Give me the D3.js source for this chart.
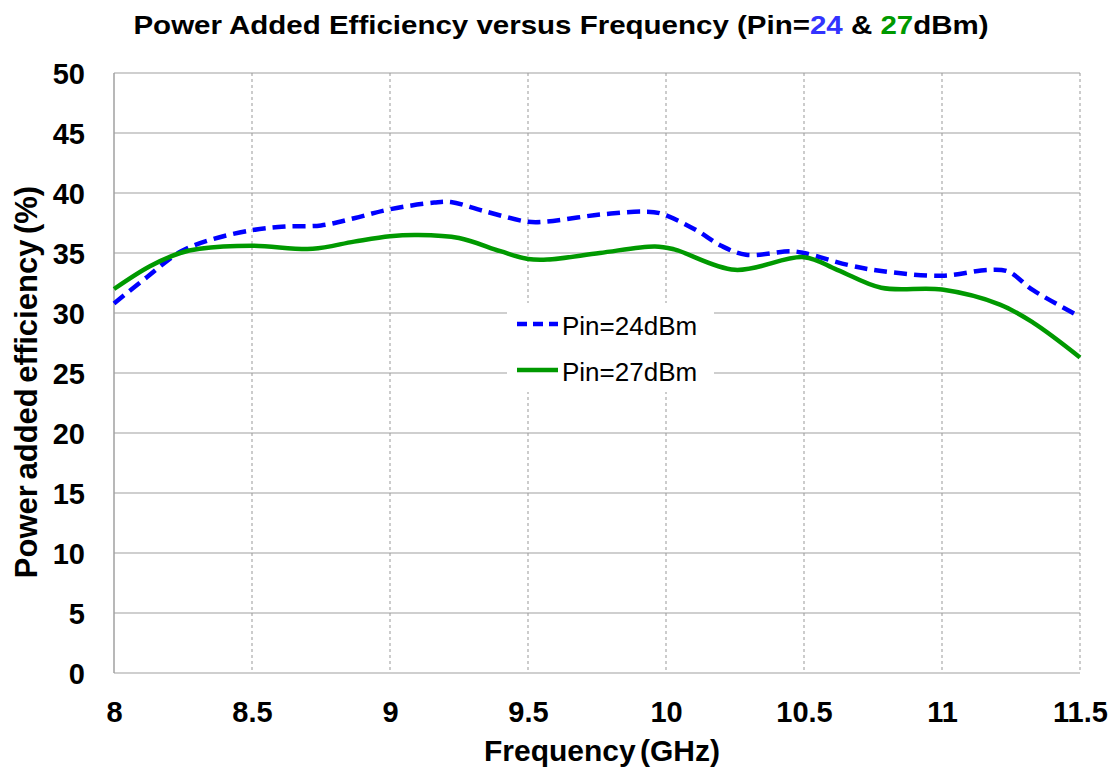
<!DOCTYPE html>
<html>
<head>
<meta charset="utf-8">
<script src="https://cdn.jsdelivr.net/npm/d3@7"></script>
<style>
  body { margin: 0; background: #fff; font-family: Arial, "Liberation Sans", sans-serif; }
</style>
</head>
<body>
<svg></svg>
<script>
const width = 1120;
const height = 769;
const margin = { top: 73, right: 40, bottom: 96, left: 114 };

// frequency in GHz
const freq24 = [8.0, 8.12, 8.24, 8.35, 8.5, 8.62, 8.75, 8.87, 9.0, 9.16, 9.22, 9.34, 9.5, 9.56, 9.76, 9.92, 9.98, 10.11, 10.2, 10.29, 10.45, 10.5, 10.66, 10.78, 11.0, 11.17, 11.24, 11.33, 11.5];
const pae24 = [30.8, 33.0, 35.1, 36.1, 36.9, 37.2, 37.3, 37.9, 38.65, 39.2, 39.25, 38.5, 37.6, 37.6, 38.2, 38.45, 38.3, 36.9, 35.6, 34.85, 35.15, 35.0, 34.0, 33.5, 33.1, 33.6, 33.45, 31.9, 29.7];
const freq27 = [8.0, 8.13, 8.24, 8.31, 8.5, 8.72, 8.87, 9.0, 9.1, 9.25, 9.4, 9.5, 9.57, 9.76, 9.96, 10.03, 10.25, 10.5, 10.62, 10.78, 11.0, 11.21, 11.33, 11.5];
const pae27 = [32.0, 33.9, 35.0, 35.35, 35.6, 35.35, 35.95, 36.4, 36.5, 36.25, 35.15, 34.5, 34.45, 35.0, 35.55, 35.3, 33.6, 34.65, 33.6, 32.1, 31.95, 30.7, 29.2, 26.3];

const xTicks = [8, 8.5, 9, 9.5, 10, 10.5, 11, 11.5];
const yTicks = [0, 5, 10, 15, 20, 25, 30, 35, 40, 45, 50];

const series = [
  { name: 'Pin=24dBm', x: freq24, y: pae24, color: '#0000ff', dash: '13,7' },
  { name: 'Pin=27dBm', x: freq27, y: pae27, color: '#009900', dash: null }
];

const svg = d3.select('svg')
  .attr('width', width)
  .attr('height', height);

const x = d3.scaleLinear().domain([8, 11.5]).range([margin.left, width - margin.right]);
const y = d3.scaleLinear().domain([0, 50]).range([height - margin.bottom, margin.top]);

// horizontal grid (solid)
svg.append('g')
  .selectAll('line')
  .data(yTicks)
  .enter()
  .append('line')
  .attr('x1', x(8))
  .attr('x2', x(11.5))
  .attr('y1', d => y(d))
  .attr('y2', d => y(d))
  .attr('stroke', '#a0a0a0')
  .attr('stroke-width', 1.2);

// vertical grid (dashed)
svg.append('g')
  .selectAll('line')
  .data(xTicks.slice(1))
  .enter()
  .append('line')
  .attr('x1', d => x(d))
  .attr('x2', d => x(d))
  .attr('y1', y(50))
  .attr('y2', y(0))
  .attr('stroke', '#999')
  .attr('stroke-width', 1)
  .attr('stroke-dasharray', '3,3');

// left axis line
svg.append('line')
  .attr('x1', x(8)).attr('x2', x(8))
  .attr('y1', y(50)).attr('y2', y(0))
  .attr('stroke', '#a0a0a0')
  .attr('stroke-width', 1.5);

const yAxis = svg.append('g')
  .attr('transform', `translate(${x(8)},0)`)
  .call(d3.axisLeft(y).tickValues(yTicks).tickSize(0).tickPadding(29));
const xAxis = svg.append('g')
  .attr('transform', `translate(0,${y(0)})`)
  .call(d3.axisBottom(x).tickValues(xTicks).tickSize(0).tickFormat(d3.format('')));
[xAxis, yAxis].forEach(a => {
  a.select('.domain').remove();
  a.selectAll('text')
    .attr('fill', '#000')
    .style('font-family', 'Arial, "Liberation Sans", sans-serif')
    .style('font-size', '29px')
    .style('font-weight', 'bold');
});
yAxis.selectAll('text').attr('dy', '0.36em');
xAxis.selectAll('text').attr('y', 49).attr('dy', 0);

const line = d3.line()
  .x(d => x(d[0]))
  .y(d => y(d[1]))
  .curve(d3.curveCatmullRom.alpha(0.5));

svg.append('g')
  .selectAll('path')
  .data(series)
  .enter()
  .append('path')
  .attr('d', s => line(s.x.map((v, i) => [v, s.y[i]])))
  .attr('fill', 'none')
  .attr('stroke', s => s.color)
  .attr('stroke-width', 4.5)
  .attr('stroke-dasharray', s => s.dash);

// legend
const legend = svg.append('g').attr('transform', 'translate(507,303)');
legend.append('rect')
  .attr('width', 207)
  .attr('height', 89)
  .attr('fill', '#fff');
const item = legend.selectAll('g')
  .data(series)
  .enter()
  .append('g')
  .attr('transform', (d, i) => `translate(0,${21 + i * 46})`);
item.append('line')
  .attr('x1', 10).attr('x2', 51)
  .attr('y1', 0).attr('y2', 0)
  .attr('stroke', d => d.color)
  .attr('stroke-width', 4.5)
  .attr('stroke-dasharray', d => d.dash ? '10,6' : null);
item.append('text')
  .attr('x', 55)
  .attr('y', 11)
  .style('font-size', '26px')
  .text(d => d.name);

// title
const title = svg.append('text')
  .attr('transform', 'translate(561,34) scale(1.18,1)')
  .attr('text-anchor', 'middle')
  .style('font-size', '25px')
  .style('font-weight', 'bold');
title.append('tspan').text('Power Added Efficiency versus Frequency (Pin=');
title.append('tspan').attr('fill', '#3333ff').text('24');
title.append('tspan').text(' & ');
title.append('tspan').attr('fill', '#009900').text('27');
title.append('tspan').text('dBm)');

// axis titles
svg.append('text')
  .attr('x', 602)
  .attr('y', 761)
  .attr('text-anchor', 'middle')
  .style('font-size', '30px')
  .style('font-weight', 'bold')
  .style('word-spacing', '-4px')
  .text('Frequency (GHz)');

svg.append('text')
  .attr('transform', 'translate(37,382) rotate(-90)')
  .attr('text-anchor', 'middle')
  .style('font-size', '31px')
  .style('font-weight', 'bold')
  .style('word-spacing', '-3px')
  .text('Power added efficiency (%)');
</script>
</body>
</html>
